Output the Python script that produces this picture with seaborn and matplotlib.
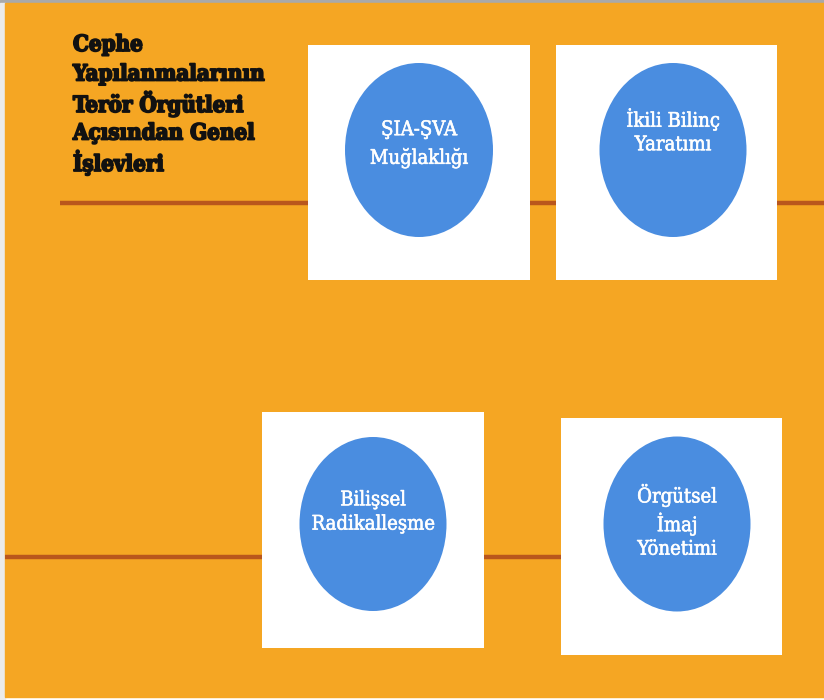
import matplotlib
matplotlib.use("Agg")
import matplotlib.pyplot as plt
import matplotlib.patches as mpatches
import matplotlib.patheffects as pe
import seaborn as sns

# ---- content ----
title_lines = ["Cephe", "Yapılanmalarının", "Terör Örgütleri", "Açısından Genel", "İşlevleri"]
node_labels = ["ŞIA-ŞVA\nMuğlaklığı", "İkili Bilinç\nYaratımı",
               "Bilişsel\nRadikalleşme", "Örgütsel\nİmaj\nYönetimi"]

# ---- layout (pixels, y down) ----
box_x0 = [308, 556, 262, 561]
box_x1 = [530, 777, 484, 782]
box_y0 = [45, 45, 412, 418]
box_y1 = [280, 280, 648, 655]
circ_cx = [419, 673, 373, 677]
circ_cy = [150, 150, 524, 524]
circ_w = [148, 147, 147, 147]
circ_h = [174, 174, 174, 175]
text_cy = [144, 131, 512, 521]
text_ls = [1.45, 1.3, 1.35, 1.3]

line_y = [203, 557]
line_x0 = [60, 5]
line_x1 = [824, 561]

ORANGE = "#F5A623"
RUST = "#B9561C"
BLUE = "#4A8DE0"

sns.set_theme(style="white")
plt.rcParams['font.family'] = ['DejaVu Serif', 'DejaVu Sans']

fig = plt.figure(figsize=(8.24, 7.0), dpi=100)
fig.patch.set_facecolor("white")
ax = fig.add_axes([0, 0, 1, 1])
ax.set_xlim(0, 824)
ax.set_ylim(700, 0)
ax.axis("off")

# background frame
ax.add_patch(mpatches.Rectangle((0, 0), 824, 3, color="#A9A9A9", zorder=0))
ax.add_patch(mpatches.Rectangle((0, 3), 5, 697, color="#EBEBEB", zorder=0))
ax.add_patch(mpatches.Rectangle((5, 3), 819, 694, color=ORANGE, zorder=1))

# horizontal lines
for y, x0, x1 in zip(line_y, line_x0, line_x1):
    ax.plot([x0, x1], [y, y], color=RUST, lw=3.2, solid_capstyle="butt", zorder=2)

# boxes, circles, labels
for i, lab in enumerate(node_labels):
    ax.add_patch(mpatches.Rectangle((box_x0[i], box_y0[i]), box_x1[i] - box_x0[i],
                                    box_y1[i] - box_y0[i], facecolor="white",
                                    edgecolor="none", zorder=3))
    ax.add_patch(mpatches.Ellipse((circ_cx[i], circ_cy[i]), circ_w[i], circ_h[i],
                                  facecolor=BLUE, edgecolor="none", zorder=4))
    ax.text(circ_cx[i], text_cy[i], lab, ha="center", va="center", color="white",
            fontsize=14.5, fontstretch="condensed", family=["DejaVu Serif"],
            linespacing=text_ls[i], zorder=5,
            path_effects=[pe.withStroke(linewidth=0.4, foreground="white")])

# title
for k, t in enumerate(title_lines):
    ax.text(73, 45 + k * 29.5, t, ha="left", va="center", color="#111111",
            fontsize=16, fontweight="bold", fontstretch="condensed",
            family=["DejaVu Serif"], zorder=5,
            path_effects=[pe.withStroke(linewidth=1.3, foreground="#111111")])

fig.savefig("out.png", dpi=100, facecolor="white")
